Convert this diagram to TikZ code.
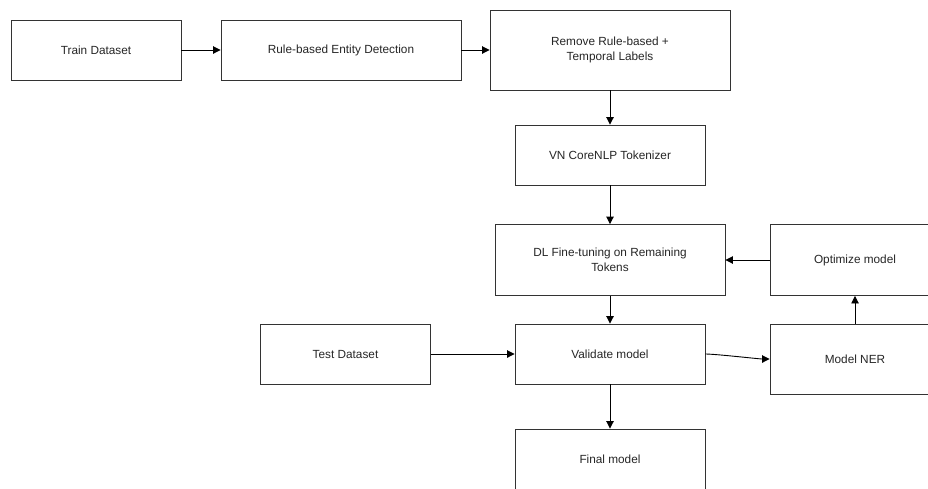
\documentclass[tikz,border=0pt]{standalone}
\usepackage{fontspec}
\setmainfont{Liberation Sans}
\usetikzlibrary{arrows.meta}
\begin{document}
\begin{tikzpicture}[x=1pt,y=-1pt,
  box/.style={draw=black!80, line width=0.9pt, fill=white, inner sep=0pt,
    align=center, font=\fontsize{11.8}{15}\selectfont, text=black!85},
  conn/.style={draw=black, line width=0.9pt, -{Triangle[length=7.5pt,width=7.5pt]}}]
\useasboundingbox (0,0) rectangle (928,488);
\clip (0,0) rectangle (928,488);
\node[box, minimum width=170pt, minimum height=60pt] (train) at (96,50) {Train Dataset};
\node[box, minimum width=240pt, minimum height=60pt] (rule) at (341,50) {Rule-based Entity Detection};
\node[box, minimum width=240pt, minimum height=80pt] (remove) at (610,50) {Remove Rule-based +\\Temporal Labels};
\node[box, minimum width=190pt, minimum height=60pt] (vn) at (610,155) {VN CoreNLP Tokenizer};
\node[box, minimum width=230pt, minimum height=71pt] (dl) at (610,260) {DL Fine-tuning on Remaining\\Tokens};
\node[box, minimum width=170pt, minimum height=71pt] (opt) at (855,260) {Optimize model};
\node[box, minimum width=170pt, minimum height=60pt] (test) at (345.5,354) {Test Dataset};
\node[box, minimum width=190pt, minimum height=60pt] (val) at (610,354) {Validate model};
\node[box, minimum width=170pt, minimum height=70pt] (ner) at (855,359) {Model NER};
\node[box, minimum width=190pt, minimum height=60pt] (final) at (610,459) {Final model};
\draw[conn] (train) -- (rule);
\draw[conn] (rule) -- (remove);
\draw[conn] (remove) -- (vn);
\draw[conn] (vn) -- (dl);
\draw[conn] (dl) -- (val);
\draw[conn] (test) -- (val);
\draw[conn] (val.east) to[out=0,in=180,looseness=0.4] (ner.west);
\draw[conn] (ner) -- (opt);
\draw[conn] (opt) -- (dl);
\draw[conn] (val) -- (final);
\end{tikzpicture}
\end{document}
